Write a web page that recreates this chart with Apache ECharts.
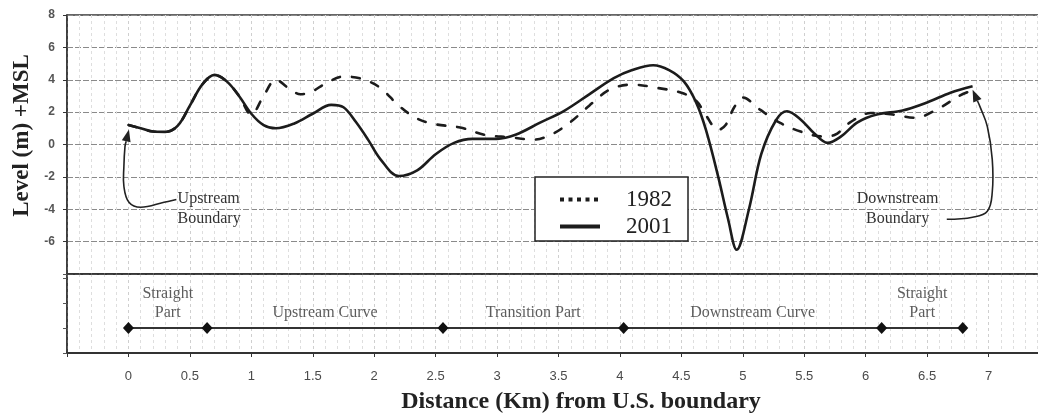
<!DOCTYPE html>
<html>
<head>
<meta charset="utf-8">
<script src="https://cdn.jsdelivr.net/npm/echarts@6/dist/echarts.min.js"></script>
<style>
html,body{margin:0;padding:0;background:#fff;}
#chart{width:1038px;height:418px;}
</style>
</head>
<body>
<div id="chart"></div>
<script>
// ---- data (distance in km, level in m +MSL) ----
const distance2001 = [0, 0.1, 0.2, 0.3, 0.4, 0.5, 0.6, 0.7, 0.8, 0.9, 1.0, 1.1, 1.2, 1.35, 1.5, 1.65, 1.75, 1.85, 1.95, 2.05, 2.2, 2.35, 2.5, 2.65, 2.8, 3.0, 3.15, 3.35, 3.55, 3.75, 3.95, 4.1, 4.27, 4.4, 4.52, 4.62, 4.7, 4.8, 4.88, 4.95, 5.05, 5.15, 5.27, 5.36, 5.47, 5.58, 5.69, 5.8, 5.93, 6.09, 6.3, 6.5, 6.69, 6.87];
const level2001 = [1.2, 1.0, 0.8, 0.78, 1.15, 2.4, 3.7, 4.3, 3.9, 3.0, 1.9, 1.2, 1.0, 1.3, 1.9, 2.45, 2.3, 1.4, 0.3, -0.9, -1.95, -1.6, -0.6, 0.1, 0.35, 0.35, 0.6, 1.35, 2.1, 3.1, 4.1, 4.6, 4.9, 4.6, 3.9, 2.6, 0.9, -2.0, -4.6, -6.5, -4.0, -0.6, 1.5, 2.05, 1.55, 0.7, 0.1, 0.5, 1.35, 1.85, 2.1, 2.6, 3.2, 3.6];
const distance1982 = [0, 0.1, 0.2, 0.3, 0.4, 0.5, 0.6, 0.7, 0.8, 0.9, 1.0, 1.1, 1.2, 1.3, 1.4, 1.5, 1.6, 1.75, 1.9, 2.05, 2.2, 2.35, 2.5, 2.7, 2.9, 3.1, 3.3, 3.45, 3.6, 3.75, 3.92, 4.1, 4.3, 4.5, 4.62, 4.7, 4.8, 4.86, 4.93, 5.0, 5.14, 5.3, 5.47, 5.65, 5.75, 5.87, 6.04, 6.22, 6.4, 6.6, 6.76, 6.85];
const level1982 = [1.2, 1.0, 0.8, 0.78, 1.15, 2.4, 3.7, 4.3, 3.9, 3.0, 1.85, 3.0, 4.0, 3.5, 3.1, 3.3, 3.75, 4.2, 4.05, 3.5, 2.4, 1.6, 1.25, 1.05, 0.6, 0.45, 0.3, 0.65, 1.4, 2.4, 3.4, 3.7, 3.5, 3.2, 2.7, 1.8, 0.9, 1.2, 2.3, 2.9, 2.15, 1.35, 0.8, 0.5, 0.6, 1.35, 1.95, 1.85, 1.65, 2.25, 3.0, 3.3];
const boundaryKm = [0, 0.64, 2.56, 4.03, 6.13, 6.79];
const segmentNames = ['Straight\nPart', 'Upstream Curve', 'Transition Part', 'Downstream Curve', 'Straight\nPart'];
const seriesNames = ['1982', '2001'];
const yAxisTitle = 'Level (m) +MSL';
const xAxisTitle = 'Distance (Km) from U.S. boundary';
const upstreamNote = 'Upstream\nBoundary';
const downstreamNote = 'Downstream\nBoundary';
// annotation arrow paths in data space [km, level]
const upstreamArrow = [[0.39, -3.4], [0.29, -3.57], [0.10, -3.88], [0.004, -3.57], [-0.037, -2.58], [-0.037, -1.35], [-0.028, -0.12], [0.004, 0.92]];
const downstreamArrow = [[6.66, -4.62], [6.87, -4.49], [6.99, -4.12], [7.03, -2.95], [7.03, -0.92], [6.99, 1.11], [6.93, 2.34], [6.87, 3.38]];

const pairs = (xs, ys) => xs.map((x, i) => [x, ys[i]]);
const serif = 'Liberation Serif';
const sans = 'Liberation Sans';
const ink = '#1c1c1c';

const chart = echarts.init(document.getElementById('chart'), null, {renderer: 'canvas'});

const xAxisCommon = {
  type: 'value', min: -0.5, max: 7.5, interval: 0.5,
  splitLine: {show: true, lineStyle: {color: '#cfcfcf', type: [3, 3], width: 1}},
  minorSplitLine: {show: true, lineStyle: {color: '#dedede', type: [3, 3], width: 1}},
  minorTick: {show: false, splitNumber: 5}
};

const option = {
  backgroundColor: '#ffffff',
  animation: false,
  grid: [
    {left: 67, top: 15, width: 983, height: 259, show: true, borderColor: '#333', borderWidth: 1.5, backgroundColor: 'transparent', outerBoundsMode: 'none', containLabel: false},
    {left: 67, top: 274, width: 983, height: 79, show: true, borderColor: '#333', borderWidth: 1.5, backgroundColor: 'transparent', outerBoundsMode: 'none', containLabel: false}
  ],
  xAxis: [
    Object.assign({}, xAxisCommon, {
      gridIndex: 0,
      axisLine: {show: true, onZero: false, lineStyle: {color: '#333', width: 1.5}},
      axisTick: {show: false}, axisLabel: {show: false}
    }),
    Object.assign({}, xAxisCommon, {
      gridIndex: 1,
      axisLine: {show: true, onZero: false, lineStyle: {color: '#333', width: 2}},
      axisTick: {show: true, length: 4, lineStyle: {color: '#333'}},
      axisLabel: {
        show: true, margin: 17, color: '#4a4a4a', fontFamily: sans, fontSize: 13,
        formatter: v => (v < 0 || v > 7) ? '' : String(v)
      },
      name: xAxisTitle, nameLocation: 'middle', nameGap: 37,
      nameTextStyle: {fontFamily: serif, fontWeight: 'bold', fontSize: 24, color: '#222', padding: [0, 0, 0, 45]}
    })
  ],
  yAxis: [
    {
      type: 'value', gridIndex: 0, min: -8, max: 8, interval: 2,
      axisLine: {show: true, onZero: false, lineStyle: {color: '#333', width: 1.5}},
      axisTick: {show: true, length: 4, lineStyle: {color: '#333'}},
      axisLabel: {
        margin: 12, color: '#555', fontFamily: sans, fontSize: 12, fontWeight: 'bold',
        formatter: v => v === -8 ? '' : String(v)
      },
      splitLine: {show: true, lineStyle: {color: '#8a8a8a', type: [6, 2], width: 1}},
      name: yAxisTitle, nameLocation: 'middle', nameGap: 30,
      nameTextStyle: {fontFamily: serif, fontWeight: 'bold', fontSize: 23, color: '#222', padding: [0, 0, 0, 18]}
    },
    {
      type: 'value', gridIndex: 1, min: 0, max: 3.16, interval: 1,
      axisLine: {show: true, onZero: false, lineStyle: {color: '#333', width: 1.5}},
      axisTick: {show: true, length: 4, lineStyle: {color: '#555'}},
      axisLabel: {show: false},
      splitLine: {show: false}
    }
  ],
  legend: {
    orient: 'vertical', left: 535, top: 177,
    padding: [11, 16, 3, 23], itemGap: 4, itemWidth: 40, itemHeight: 14,
    borderColor: '#222', borderWidth: 1.5, backgroundColor: '#fff',
    textStyle: {fontFamily: serif, fontSize: 23, color: '#222', padding: [0, 0, 0, 21]},
    data: [
      {name: seriesNames[0], itemStyle: {opacity: 0}, lineStyle: {color: ink, width: 4, type: [4, 4.5], cap: 'butt'}},
      {name: seriesNames[1], itemStyle: {opacity: 0}, lineStyle: {color: ink, width: 4, type: 'solid'}}
    ]
  },
  series: [
    {
      name: seriesNames[0], type: 'line', xAxisIndex: 0, yAxisIndex: 0,
      data: pairs(distance1982, level1982), smooth: 0.35, symbol: 'none',
      lineStyle: {color: ink, width: 2.6, type: [8, 12], cap: 'round'}, itemStyle: {color: ink}, z: 3
    },
    {
      name: seriesNames[1], type: 'line', xAxisIndex: 0, yAxisIndex: 0,
      data: pairs(distance2001, level2001), smooth: 0.35, symbol: 'none',
      lineStyle: {color: ink, width: 2.6}, itemStyle: {color: ink}, z: 4
    },
    {
      name: 'reaches', type: 'line', xAxisIndex: 1, yAxisIndex: 1,
      data: boundaryKm.map(k => [k, 1]), symbol: 'diamond', symbolSize: [11, 12],
      lineStyle: {color: '#333', width: 2}, itemStyle: {color: '#111'}, z: 3
    },
    {
      name: 'reachLabels', type: 'scatter', xAxisIndex: 1, yAxisIndex: 1,
      data: segmentNames.map((n, i) => ({name: n, value: [(boundaryKm[i] + boundaryKm[i + 1]) / 2, 1]})),
      symbolSize: 0,
      label: {show: true, position: 'top', distance: 6, formatter: p => p.name,
        fontFamily: serif, fontSize: 16, lineHeight: 19, color: '#333'}
    }
  ]
};
chart.setOption(option);

function toPx(pt) { return chart.convertToPixel({gridIndex: 0}, pt); }
function arrowGraphics(path) {
  const pts = path.map(toPx);
  const tip = pts[pts.length - 1];
  const prev = pts[pts.length - 2];
  const dx = tip[0] - prev[0], dy = tip[1] - prev[1];
  const len = Math.hypot(dx, dy) || 1;
  const ux = dx / len, uy = dy / len;
  const hl = 12, hw = 4.5;
  const bx = tip[0] - ux * hl, by = tip[1] - uy * hl;
  const head = [tip, [bx - uy * hw, by + ux * hw], [bx + uy * hw, by - ux * hw]];
  const body = pts.slice(0, -1).concat([[bx, by]]);
  return [
    {type: 'polyline', shape: {points: body, smooth: 0.4}, style: {stroke: '#222', lineWidth: 1.6, fill: null}, z: 10},
    {type: 'polygon', shape: {points: head}, style: {fill: '#222'}, z: 10}
  ];
}
const upText = toPx([0.40, -4.0]);
const downText = toPx([6.26, -4.0]);
chart.setOption({
  graphic: [].concat(
    arrowGraphics(upstreamArrow),
    arrowGraphics(downstreamArrow),
    [
      {type: 'text', x: upText[0], y: upText[1], z: 10,
        style: {text: upstreamNote, fontFamily: serif, fontSize: 16, lineHeight: 20, fill: '#333', textAlign: 'left', textVerticalAlign: 'middle'}},
      {type: 'text', x: downText[0], y: downText[1], z: 10,
        style: {text: downstreamNote, fontFamily: serif, fontSize: 16, lineHeight: 20, fill: '#333', textAlign: 'center', textVerticalAlign: 'middle'}}
    ]
  )
});
</script>
</body>
</html>
